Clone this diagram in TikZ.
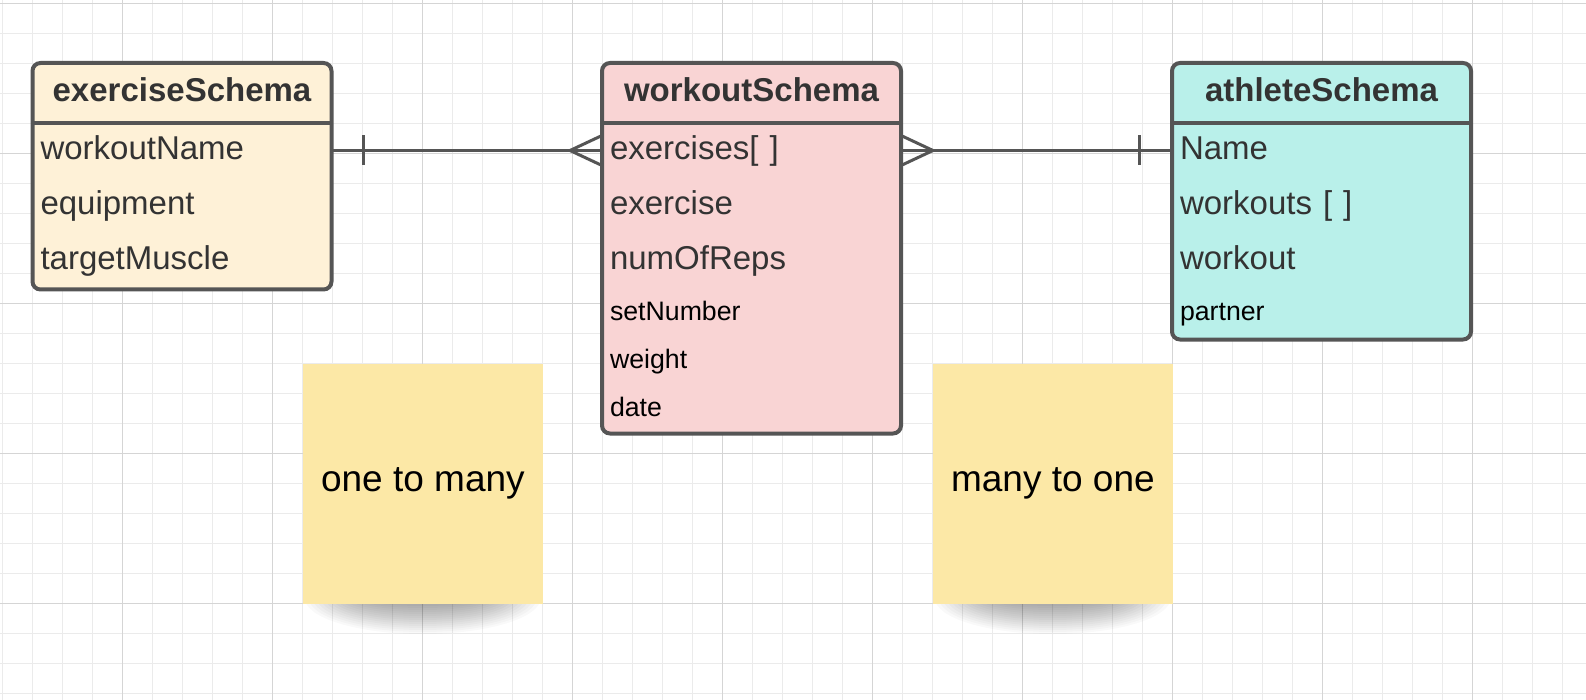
\documentclass[tikz,border=0pt]{standalone}
\usepackage{fontspec}
\setmainfont{Liberation Sans}
\usepackage{xcolor}
\usetikzlibrary{positioning}

\definecolor{borderGray}{HTML}{555555}
\definecolor{gridMinor}{HTML}{EBEBEB}
\definecolor{gridMajor}{HTML}{D5D5D5}
\definecolor{exerciseFill}{HTML}{FEF1D7}
\definecolor{workoutFill}{HTML}{F9D4D4}
\definecolor{athleteFill}{HTML}{B9F0EA}
\definecolor{noteFill}{HTML}{FCE8A6}
\definecolor{textGray}{HTML}{333333}

\tikzset{
  entity/.style={draw=borderGray, line width=4pt, rounded corners=8pt, minimum width=299pt,
    anchor=north west, inner sep=0pt, outer sep=0pt},
  header/.style={minimum width=299pt, minimum height=60pt, inner sep=0pt, outer sep=0pt,
    anchor=north west, text=textGray, font=\fontsize{33}{40}\selectfont\bfseries,
    text height=23.6pt, text depth=6pt},
  field/.style={minimum height=55pt, text width=283pt, inner xsep=8pt, inner ysep=0pt,
    outer sep=0pt, align=left, text=textGray, font=\fontsize{33}{40}\selectfont,
    text height=23.6pt, text depth=6pt},
  smallfield/.style={field, minimum height=48pt, text=black,
    font=\fontsize{26.7}{32}\selectfont, text height=19.1pt, text depth=2pt},
  separator/.style={draw=borderGray, line width=4pt},
  conn/.style={draw=borderGray, line width=3pt},
  note/.style={fill=noteFill, minimum size=240pt, anchor=north west, inner sep=0pt,
    font=\fontsize{37}{44}\selectfont},
  gridminor/.style={draw=gridMinor, line width=1.2pt},
  gridmajor/.style={draw=gridMajor, line width=1.2pt},
}

\begin{document}
\begin{tikzpicture}[x=1pt, y=-1pt, node distance=0pt]
  \useasboundingbox[fill=white] (0,0) rectangle (1586,700);

  % background grid
  \foreach \i in {0,...,52} \draw[gridminor] (2.7+30*\i,0) -- (2.7+30*\i,700);
  \foreach \j in {0,...,23} \draw[gridminor] (0,3.3+30*\j) -- (1586,3.3+30*\j);
  \foreach \i in {0,...,9} \draw[gridmajor] (122.7+150*\i,0) -- (122.7+150*\i,700);
  \foreach \j in {0,...,4} \draw[gridmajor] (0,3.3+150*\j) -- (1586,3.3+150*\j);

  % sticky notes with shadow
  \foreach \nx in {422.7,1052.7} {
    \begin{scope}
      \clip (\nx-130,603.3) rectangle (\nx+130,660);
      \foreach \k in {1,...,16}
        \fill[black, opacity=0.022] (\nx,598) ellipse [x radius={122-4*\k}, y radius={38-2*\k}];
    \end{scope}
  }
  \node[note] (noteLeft) at (302.7,363.3) {one to many};
  \node[note] (noteRight) at (932.7,363.3) {many to one};

  % exerciseSchema
  \node[entity, fill=exerciseFill, minimum height=226.5pt] (exBox) at (32.5,63) {};
  \node[header] (exHead) at (exBox.north west) {exerciseSchema};
  \node[field, below=of exHead] (ex1) {workoutName};
  \node[field, below=of ex1] (ex2) {equipment};
  \node[field, below=of ex2] (ex3) {targetMuscle};
  \draw[separator] (exHead.south west) -- (exHead.south east);

  % workoutSchema
  \node[entity, fill=workoutFill, minimum height=370.5pt] (woBox) at (602,63) {};
  \node[header] (woHead) at (woBox.north west) {workoutSchema};
  \node[field, below=of woHead] (wo1) {exercises[ ]};
  \node[field, below=of wo1] (wo2) {exercise};
  \node[field, below=of wo2] (wo3) {numOfReps};
  \node[smallfield, below=of wo3] (wo4) {setNumber};
  \node[smallfield, below=of wo4] (wo5) {weight};
  \node[smallfield, below=of wo5] (wo6) {date};
  \draw[separator] (woHead.south west) -- (woHead.south east);

  % athleteSchema
  \node[entity, fill=athleteFill, minimum height=276.5pt] (atBox) at (1172,63) {};
  \node[header] (atHead) at (atBox.north west) {athleteSchema};
  \node[field, below=of atHead] (at1) {Name};
  \node[field, below=of at1] (at2) {workouts [ ]};
  \node[field, below=of at2] (at3) {workout};
  \node[smallfield, below=of at3] (at4) {partner};
  \draw[separator] (atHead.south west) -- (atHead.south east);

  % relations
  \draw[conn] (ex1.east) -- (wo1.west);
  \draw[conn] ([xshift=32pt,yshift=15pt]ex1.east) -- ([xshift=32pt,yshift=-15pt]ex1.east);
  \draw[conn] ([yshift=15pt]wo1.west) -- ([xshift=-32pt]wo1.west) -- ([yshift=-15pt]wo1.west);

  \draw[conn] (wo1.east) -- (at1.west);
  \draw[conn] ([yshift=15pt]wo1.east) -- ([xshift=32pt]wo1.east) -- ([yshift=-15pt]wo1.east);
  \draw[conn] ([xshift=-33pt,yshift=15pt]at1.west) -- ([xshift=-33pt,yshift=-15pt]at1.west);
\end{tikzpicture}
\end{document}
